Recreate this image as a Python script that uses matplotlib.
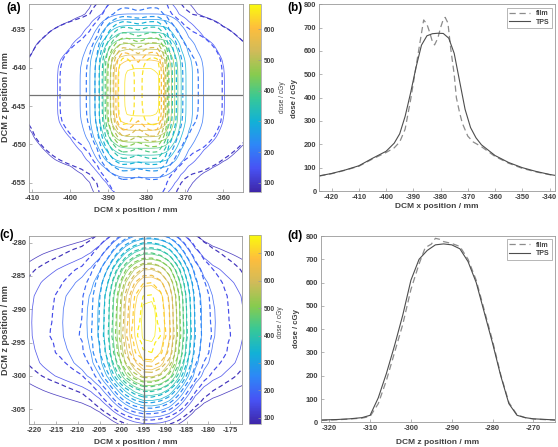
import matplotlib
matplotlib.use('Agg')
import matplotlib.pyplot as plt
from matplotlib.colors import LinearSegmentedColormap, Normalize
from matplotlib.cm import ScalarMappable
import numpy as np

# (b) film / TPS profile along x through z = -643.5 mm
b_x_tps = [-424.5, -420, -415, -410, -405, -400, -397, -395, -393, -391, -389, -387,
           -385, -383, -381, -379, -377, -375, -373, -371, -369, -367, -365, -360,
           -355, -350, -345, -340, -338]
b_tps = [65, 75, 90, 108, 140, 170, 205, 245, 320, 420, 530, 625,
         665, 674, 676, 675, 655, 590, 470, 350, 272, 228, 198, 152,
         122, 100, 84, 71, 67]
b_x_film = [-424.5, -420, -415, -410, -405, -400, -397, -395, -393, -391, -389, -387,
            -386.2, -385, -384, -383, -382.2, -381, -380, -379, -378.3, -377.3, -376.2,
            -375, -374.2, -373, -372, -370, -368, -365, -360, -355, -350, -345, -340, -338]
b_film = [64, 74, 89, 106, 137, 165, 185, 210, 265, 390, 533, 676,
          733, 715, 680, 640, 626, 655, 700, 735, 744, 720, 604,
          500, 400, 335, 290, 235, 210, 190, 148, 119, 97, 82, 70, 66]

# (a) dose along z through the field centre
a_z = [-656.5, -655, -654, -653, -652, -651, -650, -649, -648, -647, -646, -645,
       -644, -642, -641, -640, -639, -638, -637, -636, -635, -634, -633, -631.7]
a_z_tps = [155, 180, 210, 255, 320, 370, 430, 500, 560, 625, 660, 672,
           676, 675, 668, 648, 600, 525, 465, 385, 330, 270, 200, 170]
a_z_film = [160, 185, 220, 275, 340, 400, 470, 545, 610, 680, 720, 738,
            744, 744, 738, 715, 670, 600, 520, 440, 370, 300, 225, 185]

# (d) film / TPS profile along z through x = -194.8 mm
d_z_tps = [-322, -318, -315, -312, -310, -308, -306, -304, -302, -300, -298, -296,
           -294, -292, -290, -288, -286, -284, -282, -280, -278, -276, -274, -272,
           -270, -264.5]
d_tps = [10, 12, 15, 20, 30, 105, 210, 330, 460, 610, 700, 738,
         762, 766, 762, 745, 690, 600, 470, 340, 200, 80, 30, 20,
         15, 10]
d_z_film = [-322, -318, -315, -312, -310, -308, -306, -304, -302, -300, -298, -296.5,
            -295, -294, -293, -292, -290, -288, -286, -284, -282, -280, -278, -276,
            -274, -272, -270, -264.5]
d_film = [8, 11, 14, 18, 25, 80, 180, 300, 420, 570, 680, 750,
          765, 790, 786, 776, 768, 755, 700, 610, 480, 350, 205, 85,
          32, 20, 14, 9]

# (c) dose along x through the field centre
c_x = [-221.2, -218, -214, -211, -209, -207, -205, -203, -201, -199, -197, -195,
       -193, -191, -189, -187, -185, -183, -181, -179, -176, -172.2]
c_x_tps = [145, 170, 196, 218, 235, 262, 310, 390, 500, 610, 700, 760,
           764, 735, 660, 530, 400, 290, 235, 205, 180, 152]
c_x_film = [120, 140, 165, 190, 205, 245, 310, 400, 520, 640, 730, 785,
            790, 750, 670, 545, 410, 300, 230, 195, 160, 125]

a_levels = np.arange(100, 651, 50)
c_levels = np.arange(100, 751, 50)

parula = LinearSegmentedColormap.from_list('parula', [
    (0.2422, 0.1504, 0.6603), (0.2810, 0.3228, 0.9579), (0.1786, 0.5289, 0.9682),
    (0.0689, 0.6948, 0.8394), (0.2161, 0.7843, 0.5923), (0.5300, 0.7965, 0.3063),
    (0.8185, 0.7327, 0.3498), (0.9956, 0.7434, 0.2371), (0.9763, 0.9831, 0.0538)])

plt.rcParams['font.family'] = ['Liberation Sans', 'DejaVu Sans']
plt.rcParams['font.weight'] = 'bold'
plt.rcParams['axes.unicode_minus'] = False
TXT = '0.25'
EDGE = '0.6'

W, H = 558, 447
fig = plt.figure(figsize=(W / 100, H / 100), dpi=100)


def box(l, t, r, b):
    return [l / W, 1 - b / H, (r - l) / W, (b - t) / H]


def ftext(x, y, s, **kw):
    kw.setdefault('color', TXT)
    kw.setdefault('fontweight', 'bold')
    fig.text(x / W, 1 - y / H, s, ha='center', va='center', **kw)


def style(ax, size=5.4):
    for sp in ax.spines.values():
        sp.set_color(EDGE)
        sp.set_linewidth(0.6)
    ax.tick_params(direction='in', length=2, width=0.5, color=EDGE,
                   labelsize=size, labelcolor=TXT, pad=2)


def dose_map(xg, zg, xp, xv, zp, zv, p):
    # rebuild the 2-D map from the two measured orthogonal profiles
    fx = np.interp(xg, xp, xv) / max(xv)
    fz = np.interp(zg, zp, zv) / max(zv)
    a = -np.log(fx)[None, :]
    b = -np.log(fz)[:, None]
    return max(xv) * np.exp(-(a ** p + b ** p) ** (1 / p))


def contour_panel(ax, cax, xlim, zlim, tps, film, levels, norm, p):
    xg = np.linspace(xlim[0], xlim[1], 400)
    zg = np.linspace(zlim[0], zlim[1], 400)
    dt = dose_map(xg, zg, *tps, p)
    df = dose_map(xg, zg, *film, p)
    ax.contour(xg, zg, dt, levels=levels, cmap=parula, norm=norm,
               linewidths=0.55, alpha=0.9)
    cs = ax.contour(xg, zg, df, levels=levels, cmap=parula, norm=norm, linewidths=0.85)
    cs.set_linestyle((0, (4, 2.5)))
    ax.set_xlim(xlim)
    ax.set_ylim(zlim)
    style(ax)
    cb = fig.colorbar(ScalarMappable(norm=norm, cmap=parula), cax=cax)
    cb.outline.set_edgecolor(EDGE)
    cb.outline.set_linewidth(0.5)
    cax.tick_params(direction='in', length=2, width=0.5, color=EDGE,
                    labelsize=4.8, labelcolor=TXT, pad=2)


# ---- (a)
ax_a = fig.add_axes(box(29, 4, 243, 192))
cax_a = fig.add_axes(box(249, 4, 261, 192))
contour_panel(ax_a, cax_a, (-410.8, -354.8), (-656.2, -631.7),
              (b_x_tps, b_tps, a_z, a_z_tps), (b_x_film, b_film, a_z, a_z_film),
              a_levels, Normalize(70, 683), 1.4)
ax_a.axhline(-643.5, color='0.45', lw=0.9)
ax_a.set_xticks(np.arange(-410, -355, 10))
ax_a.set_yticks(np.arange(-655, -634, 5))
cax_a.set_yticks(np.arange(100, 601, 100))

# ---- (b)
ax_b = fig.add_axes(box(319.3, 4.3, 555, 191))
ax_b.plot(b_x_film, b_film, color='0.55', lw=0.9, ls=(0, (5, 3)), label='film')
ax_b.plot(b_x_tps, b_tps, color='0.3', lw=0.8, label='TPS')
ax_b.set_xlim(-424.5, -338)
ax_b.set_ylim(0, 800)
ax_b.set_xticks(np.arange(-420, -339, 10))
ax_b.set_yticks(np.arange(0, 801, 100))
style(ax_b)

# ---- (c)
ax_c = fig.add_axes(box(29, 236, 242.3, 424))
cax_c = fig.add_axes(box(249.3, 235, 260.7, 424))
contour_panel(ax_c, cax_c, (-221.2, -172.2), (-307.2, -279),
              (c_x, c_x_tps, d_z_tps, d_tps), (c_x, c_x_film, d_z_film, d_film),
              c_levels, Normalize(77, 767), 1.0)
ax_c.axvline(-194.8, color='0.45', lw=0.9)
ax_c.set_xticks(np.arange(-220, -174, 5))
ax_c.set_yticks(np.arange(-305, -279, 5))
cax_c.set_yticks(np.arange(100, 701, 100))

# ---- (d)
ax_d = fig.add_axes(box(320.7, 236, 555, 422.3))
ax_d.plot(d_z_film, d_film, color='0.55', lw=0.9, ls=(0, (5, 3)), label='film')
ax_d.plot(d_z_tps, d_tps, color='0.3', lw=0.8, label='TPS')
ax_d.set_xlim(-322.1, -264.7)
ax_d.set_ylim(0, 800)
ax_d.set_xticks(np.arange(-320, -269, 10))
ax_d.set_yticks(np.arange(0, 801, 100))
style(ax_d)

for ax in (ax_b, ax_d):
    leg = ax.legend(loc='upper right', fontsize=5, frameon=True, fancybox=False,
                    handlelength=3.0, borderpad=0.35, labelspacing=0.2,
                    handletextpad=0.8, borderaxespad=0.5)
    leg.get_frame().set_edgecolor('0.5')
    leg.get_frame().set_linewidth(0.5)
    for t in leg.get_texts():
        t.set_color(TXT)
        t.set_fontweight('bold')

# axis labels
ftext(136, 210.5, 'DCM x position / mm', fontsize=6)
ftext(5.5, 97, 'DCM z position / mm', fontsize=6.6, rotation=90)
ftext(283, 97, 'dose / cGy', fontsize=4.8, fontweight='normal', rotation=90)
ftext(295, 99, 'dose / cGy', fontsize=5.6, rotation=90)
ftext(437, 206.5, 'DCM x position / mm', fontsize=6)

ftext(136, 442, 'DCM x position / mm', fontsize=6)
ftext(5.5, 330, 'DCM z position / mm', fontsize=6.6, rotation=90)
ftext(281, 322, 'dose / cGy', fontsize=4.8, fontweight='normal', rotation=90)
ftext(296, 329, 'dose / cGy', fontsize=5.6, rotation=90)
ftext(438, 443, 'DCM z position / mm', fontsize=6)

# panel letters
ftext(14, 8, '(a)', fontsize=8.5, color='black')
ftext(295, 7.5, '(b)', fontsize=8.5, color='black')
ftext(7, 235, '(c)', fontsize=8.5, color='black')
ftext(295, 236, '(d)', fontsize=8.5, color='black')

fig.savefig('out.png', dpi=100)
